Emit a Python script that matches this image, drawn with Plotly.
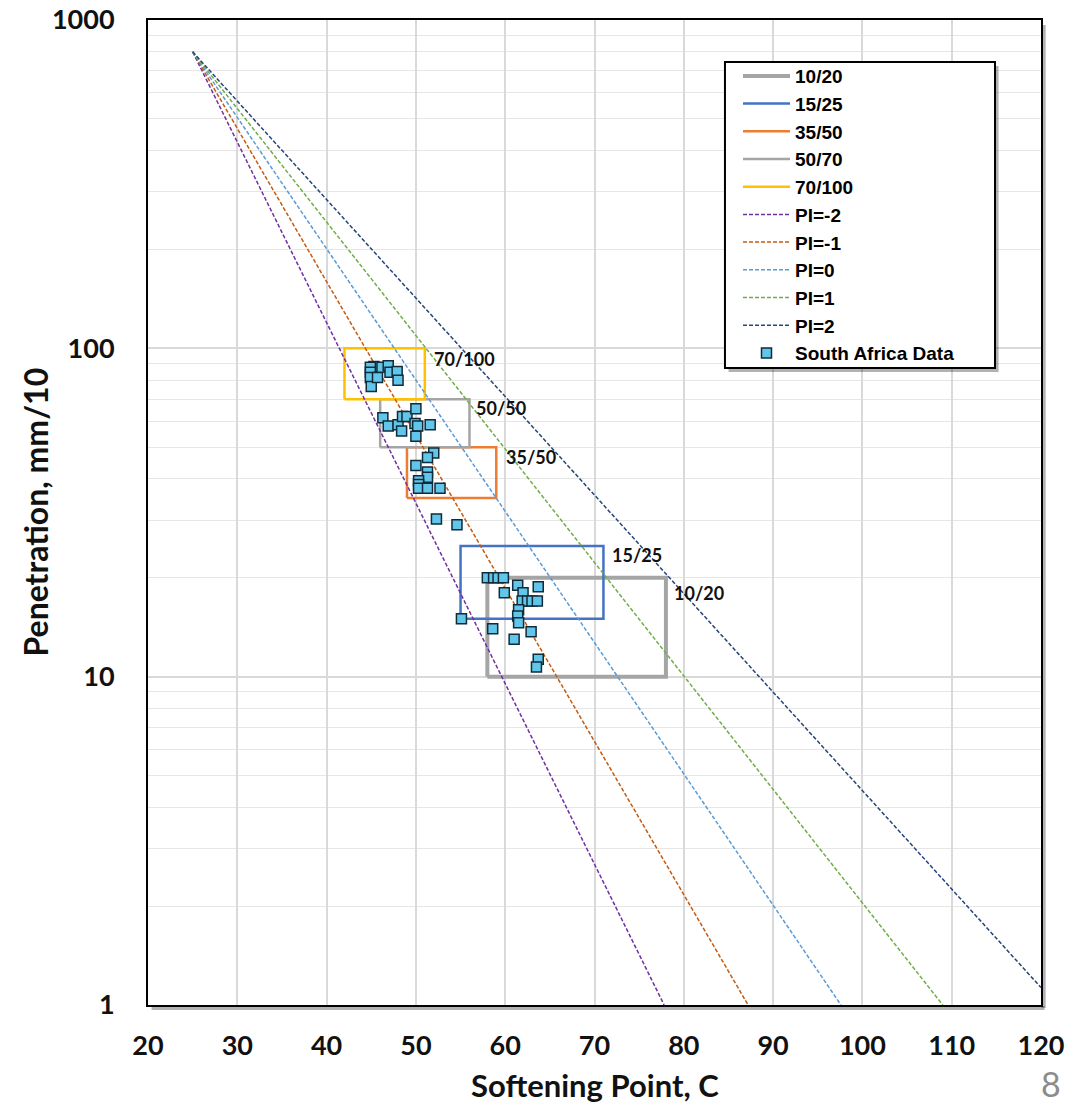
import math
import plotly.graph_objects as go

# ---- Grade boxes (softening point range, penetration range) ----
box_names = ["10/20", "15/25", "35/50", "50/70", "70/100"]
box_sp_lo = [58, 55, 49, 46, 42]
box_sp_hi = [78, 71, 59, 56, 51]
box_pen_lo = [10, 15, 35, 50, 70]
box_pen_hi = [20, 25, 50, 70, 100]
box_labels = ["10/20", "15/25", "35/50", "50/50", "70/100"]
box_label_x = [78.7, 71.7, 59.9, 56.5, 51.8]
box_label_y = [18.0, 23.5, 46.6, 66.0, 92.7]

# ---- Penetration index lines (endpoints) ----
pi_names = ["PI=-2", "PI=-1", "PI=0", "PI=1", "PI=2"]
pi_sp_start = [25, 25, 25, 25, 25]
pi_pen_start = [800, 800, 800, 800, 800]
pi_sp_end = [77.8, 87.2, 97.6, 109.0, 120.0]
pi_pen_end = [1.0, 1.0, 1.0, 1.0, 1.13]

# ---- South Africa data ----
sa_softening = [
    45.3, 44.9, 44.9, 44.9, 45.0, 45.7, 46.2, 46.9, 47.1, 47.9, 48.0,
    46.3, 46.9, 48.0, 48.4, 48.5, 49.0, 50.0, 49.9, 50.2, 50.0, 51.6,
    52.0, 51.3, 50.0, 51.3, 51.3, 50.3, 50.3, 50.3, 51.3, 52.7,
    52.3, 54.6,
    58.0, 58.7, 59.2, 59.8, 61.4, 63.7, 59.9, 62.0, 61.9, 62.5, 63.0, 63.6,
    55.1, 61.5, 61.4, 61.5, 58.6, 62.9, 61.0, 63.7, 63.5,
]
sa_penetration = [
    88.0, 87.5, 84.5, 81.5, 76.5, 81.5, 87.5, 88.5, 84.5, 85.0, 80.0,
    61.5, 58.0, 58.5, 56.0, 62.0, 62.0, 65.5, 59.0, 58.0, 54.0, 58.5,
    48.0, 46.5, 44.0, 42.0, 40.5, 39.5, 38.5, 37.5, 37.5, 37.5,
    30.2, 29.0,
    20.0, 20.0, 20.0, 20.0, 19.0, 18.8, 18.0, 18.0, 17.0, 17.0, 17.0, 17.0,
    15.0, 16.0, 15.3, 14.6, 14.0, 13.7, 13.0, 11.3, 10.7,
]

x_ticks = [20, 30, 40, 50, 60, 70, 80, 90, 100, 110, 120]
y_ticks = [1, 10, 100, 1000]
y_minor = [m * d for d in (1, 10, 100) for m in range(2, 10)]

box_colors = ["#A5A5A5", "#4472C4", "#ED7D31", "#A5A5A5", "#FFC000"]
box_widths = [4, 2.5, 2.5, 2.5, 2.5]
pi_colors = ["#7030A0", "#C55A11", "#5B9BD5", "#70AD47", "#264478"]

fig = go.Figure()

for i, name in enumerate(box_names):
    x0, x1 = box_sp_lo[i], box_sp_hi[i]
    y0, y1 = box_pen_lo[i], box_pen_hi[i]
    fig.add_trace(go.Scatter(
        x=[x0, x1, x1, x0, x0], y=[y0, y0, y1, y1, y0],
        mode="lines", name=name,
        line=dict(color=box_colors[i], width=box_widths[i]),
    ))

for i, name in enumerate(pi_names):
    fig.add_trace(go.Scatter(
        x=[pi_sp_start[i], pi_sp_end[i]], y=[pi_pen_start[i], pi_pen_end[i]],
        mode="lines", name=name,
        line=dict(color=pi_colors[i], width=1.5, dash="4px,2px"),
    ))

fig.add_trace(go.Scatter(
    x=sa_softening, y=sa_penetration, mode="markers", name="South Africa Data",
    marker=dict(symbol="square", size=10, color="#62C6EA",
                line=dict(color="#102B3A", width=1.5)),
))

for i, lab in enumerate(box_labels):
    fig.add_annotation(
        x=box_label_x[i], y=math.log10(box_label_y[i]), yref="y", xref="x",
        text="<b>%s</b>" % lab, showarrow=False, xanchor="left", yanchor="middle",
        font=dict(family="Lato", size=18, color="#111111"),
    )

# axis titles and slide number
fig.add_annotation(
    x=0.5, y=0, xref="paper", yref="paper", yshift=-80,
    text="<b>Softening Point, C</b>", showarrow=False, xanchor="center", yanchor="middle",
    font=dict(family="Lato", size=31, color="#111111"),
)
fig.add_annotation(
    x=0, y=0.5, xref="paper", yref="paper", xshift=-113,
    text="<b>Penetration, mm/10</b>", showarrow=False, textangle=-90,
    xanchor="center", yanchor="middle",
    font=dict(family="Lato", size=32, color="#111111"),
)
fig.add_annotation(
    x=1, y=0, xref="paper", yref="paper", xshift=-2, yshift=-78,
    text="8", showarrow=False, xanchor="left", yanchor="middle",
    font=dict(family="Lato", size=34, color="#8C8C8C"),
)

# plot frame shadow
fig.add_shape(type="line", xref="paper", yref="paper",
              x0=0.004, x1=1.004, y0=-0.003, y1=-0.003,
              line=dict(color="rgba(0,0,0,0.3)", width=4))
fig.add_shape(type="line", xref="paper", yref="paper",
              x0=1.003, x1=1.003, y0=-0.003, y1=0.995,
              line=dict(color="rgba(0,0,0,0.3)", width=4))

# legend frame with shadow
fig.add_shape(type="rect", xref="paper", yref="paper",
              x0=0.6501, x1=0.9525, y0=0.6427, y1=0.9534,
              fillcolor="rgba(0,0,0,0.3)", line=dict(width=0), layer="above")
fig.add_shape(type="rect", xref="paper", yref="paper",
              x0=0.6461, x1=0.9485, y0=0.6467, y1=0.9574,
              fillcolor="white", line=dict(color="black", width=2), layer="above")

fig.update_layout(
    width=1091, height=1103,
    margin=dict(l=148, r=50, t=20, b=98, autoexpand=False),
    paper_bgcolor="white", plot_bgcolor="white",
    showlegend=True,
    legend=dict(
        x=0.6607, y=0.9624, xanchor="left", yanchor="top",
        bgcolor="rgba(0,0,0,0)", borderwidth=0,
        font=dict(family="Liberation Sans", size=19, color="black", weight="bold"),
        itemwidth=47,
    ),
    xaxis=dict(
        range=[20, 120], tickvals=x_ticks, ticktext=[str(v) for v in x_ticks],
        automargin=False,
        showgrid=True, gridcolor="#D9D9D9", gridwidth=1.5,
        showline=True, mirror=True, linecolor="black", linewidth=2,
        ticks="outside", ticklen=16, tickcolor="rgba(0,0,0,0)",
        tickfont=dict(family="Lato", size=27, color="#111111", weight="bold"),
        zeroline=False,
    ),
    yaxis=dict(
        type="log", range=[0, 3], tickvals=y_ticks, ticktext=[str(v) for v in y_ticks],
        automargin=False,
        showgrid=True, gridcolor="#D9D9D9", gridwidth=1.5,
        minor=dict(tickvals=y_minor, showgrid=True, gridcolor="#E6E6E6", gridwidth=1),
        showline=True, mirror=True, linecolor="black", linewidth=2,
        ticks="outside", ticklen=26, tickcolor="rgba(0,0,0,0)",
        tickfont=dict(family="Lato", size=27, color="#111111", weight="bold"),
        zeroline=False,
    ),
)

fig.write_html("out.html")
